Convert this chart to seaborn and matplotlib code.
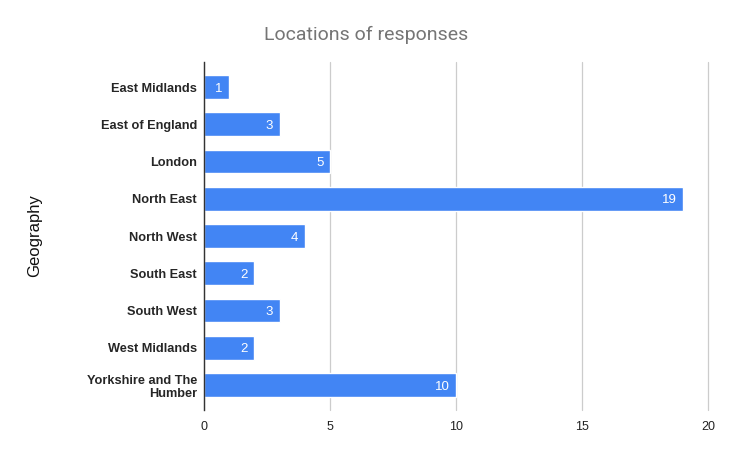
import pandas as pd
import matplotlib
matplotlib.use("Agg")
import matplotlib.pyplot as plt
import seaborn as sns

# Data
regions = [
    "East Midlands",
    "East of England",
    "London",
    "North East",
    "North West",
    "South East",
    "South West",
    "West Midlands",
    "Yorkshire and The\nHumber",
]
counts = [1, 3, 5, 19, 4, 2, 3, 2, 10]

df = pd.DataFrame({"Geography": regions, "Responses": counts})

sns.set_style("white")
plt.rcParams["font.family"] = ["Liberation Sans", "DejaVu Sans"]

fig = plt.figure(figsize=(7.31, 4.53), dpi=100)
ax = fig.add_axes([0.279, 0.095, 0.6895, 0.768])

sns.barplot(data=df, x="Responses", y="Geography", color="#4285F4",
            width=0.64, saturation=1, ax=ax, zorder=3)

# value labels inside bar ends
for bar, v in zip(ax.patches, counts):
    ax.text(bar.get_width() - 0.25, bar.get_y() + bar.get_height() / 2, str(v),
            color="white", ha="right", va="center_baseline", fontsize=9.5)

ax.set_xlim(0, 20)
ax.set_ylim(8.67, -0.67)
ax.set_xticks([0, 5, 10, 15, 20])
ax.xaxis.grid(True, color="#cccccc", linewidth=0.9, zorder=0)
for gl in ax.get_xgridlines():
    gl.set_clip_on(False)
ax.set_axisbelow(True)
for s in ["top", "right", "bottom"]:
    ax.spines[s].set_visible(False)
ax.spines["left"].set_color("#333333")
ax.spines["left"].set_linewidth(1.0)
ax.spines["left"].set_zorder(4)
ax.tick_params(axis="both", length=0)
ax.tick_params(axis="x", labelsize=9, colors="#222222", pad=8)
ax.set_yticks(range(len(regions)))
ax.set_yticklabels(regions, fontsize=9.2, fontweight="bold", multialignment="right")
ax.tick_params(axis="y", pad=5)

ax.set_xlabel("")
ax.set_ylabel("")
fig.text(35 / 731, 0.5 * (0.095 + 0.863), "Geography", rotation=90, ha="center",
         va="center", fontsize=12, color="#111111")

fig.text(366 / 731, 1 - 35 / 453, "Locations of responses", ha="center",
         va="center", fontsize=14, color="#757575", family=["Roboto", "DejaVu Sans"])

fig.savefig("out.png", dpi=100)
